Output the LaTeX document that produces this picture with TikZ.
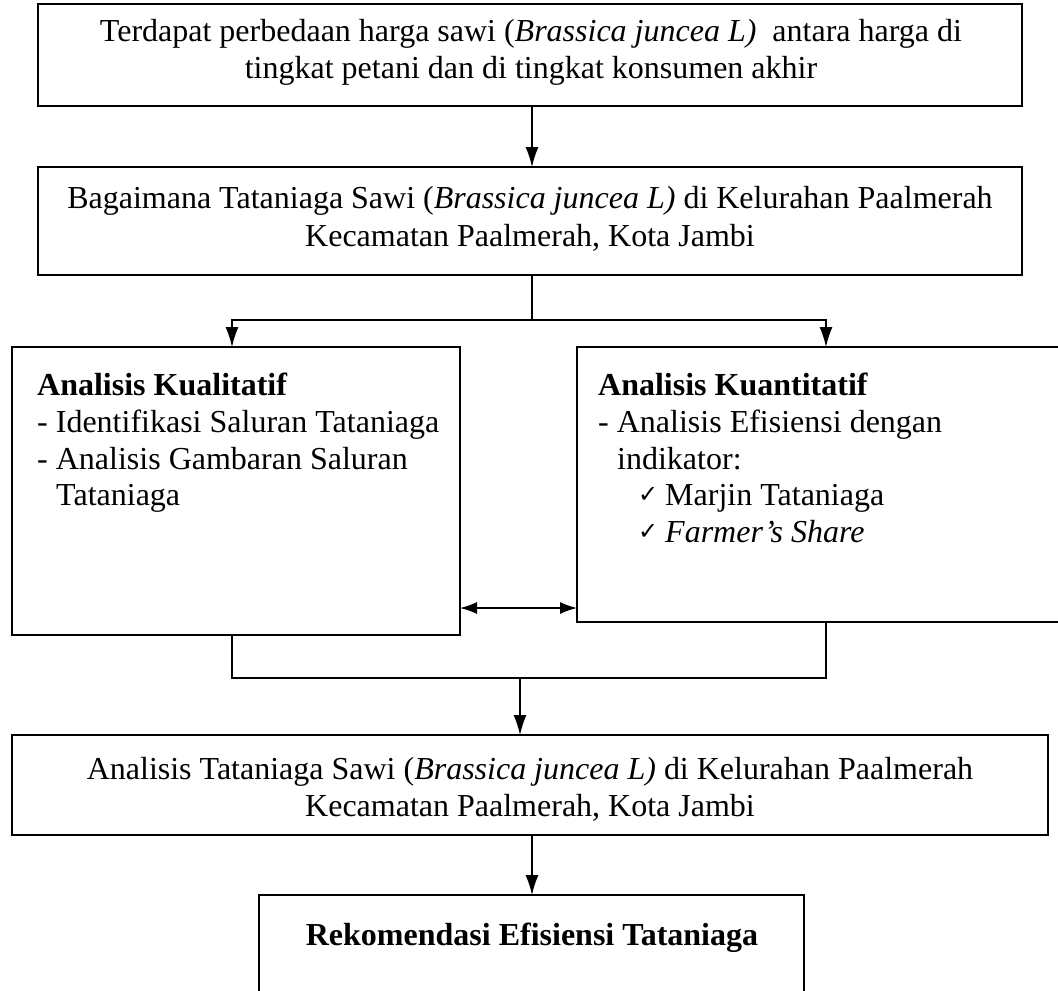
\documentclass[tikz,border=0pt]{standalone}
\usepackage{fontspec}
\setmainfont{Liberation Serif}
\newfontfamily\symfont{DejaVu Sans}
\usetikzlibrary{arrows.meta}
\begin{document}
\begin{tikzpicture}[x=1pt,y=-1pt,
  boxstyle/.style={draw, line width=1.8pt, inner sep=0pt, outer sep=0pt, anchor=north west},
  txt/.style={inner sep=0pt, font=\fontsize{32}{37}\selectfont},
  chk/.style={inner sep=0pt, font=\symfont\fontsize{24}{28}\selectfont},
  conn/.style={line width=1.4pt},
  arr/.style={line width=1.4pt, -{Latex[length=20pt,width=13pt]}},
  darr/.style={line width=1.4pt, {Latex[length=17pt,width=12pt]}-{Latex[length=17pt,width=12pt]}}]
\useasboundingbox (0,0) rectangle (1058,991);
% boxes
\node[boxstyle, minimum width=984, minimum height=102] (b1) at (38,4) {};
\node[boxstyle, minimum width=984, minimum height=108] (b2) at (38,167) {};
\node[boxstyle, minimum width=448, minimum height=288] (b3) at (12,347) {};
\node[boxstyle, minimum width=490, minimum height=275] (b4) at (577,347) {};
\node[boxstyle, minimum width=1036, minimum height=100] (b5) at (12,735) {};
\node[boxstyle, minimum width=545, minimum height=120] (b6) at (259,895) {};
% texts
\node[txt, anchor=base] (t1a) at (531,41) {Terdapat perbedaan harga sawi (\textit{Brassica juncea L)}\ \ antara harga di};
\node[txt, anchor=base] (t1b) at (531,78) {tingkat petani dan di tingkat konsumen akhir};
\node[txt, anchor=base] (t2a) at (530,208) {Bagaimana Tataniaga Sawi (\textit{Brassica juncea L)} di Kelurahan Paalmerah};
\node[txt, anchor=base] (t2b) at (530,246) {Kecamatan Paalmerah, Kota Jambi};
\node[txt, anchor=base west] (t3a) at (37,395) {\textbf{Analisis Kualitatif}};
\node[txt, anchor=base west] (t3b) at (37,432) {- Identifikasi Saluran Tataniaga};
\node[txt, anchor=base west] (t3c) at (37,469) {- Analisis Gambaran Saluran};
\node[txt, anchor=base west] (t3d) at (56,505) {Tataniaga};
\node[txt, anchor=base west] (t4a) at (598,395) {\textbf{Analisis Kuantitatif}};
\node[txt, anchor=base west] (t4b) at (598,432) {- Analisis Efisiensi dengan};
\node[txt, anchor=base west] (t4c) at (617,469) {indikator:};
\node[chk, anchor=base west] (c4d) at (638,502) {✓};
\node[txt, anchor=base west] (t4d) at (665,505) {Marjin Tataniaga};
\node[chk, anchor=base west] (c4e) at (638,539) {✓};
\node[txt, anchor=base west] (t4e) at (665,542) {\textit{Farmer’s Share}};
\node[txt, anchor=base] (t5a) at (530,779) {Analisis Tataniaga Sawi (\textit{Brassica juncea L)} di Kelurahan Paalmerah};
\node[txt, anchor=base] (t5b) at (530,816) {Kecamatan Paalmerah, Kota Jambi};
\node[txt, anchor=base] (t6) at (532,945) {\textbf{Rekomendasi Efisiensi Tataniaga}};
% connectors
\coordinate (s1) at (532,320);
\coordinate (m1) at (520,678);
\draw[arr] (b1.south -| 532,0) -- (b2.north -| 532,0);
\draw[conn] (b2.south -| 532,0) -- (s1);
\draw[arr] (s1) -| (b3.north -| 232,0);
\draw[arr] (s1) -| (b4.north -| 826,0);
\draw[darr] (b3.east |- 0,608) -- (b4.west |- 0,608);
\draw[conn] (b3.south -| 232,0) |- (m1);
\draw[conn] (b4.south -| 826,0) |- (m1);
\draw[arr] (m1) -- (b5.north -| 520,0);
\draw[arr] (b5.south -| 532,0) -- (b6.north -| 532,0);
\end{tikzpicture}
\end{document}
